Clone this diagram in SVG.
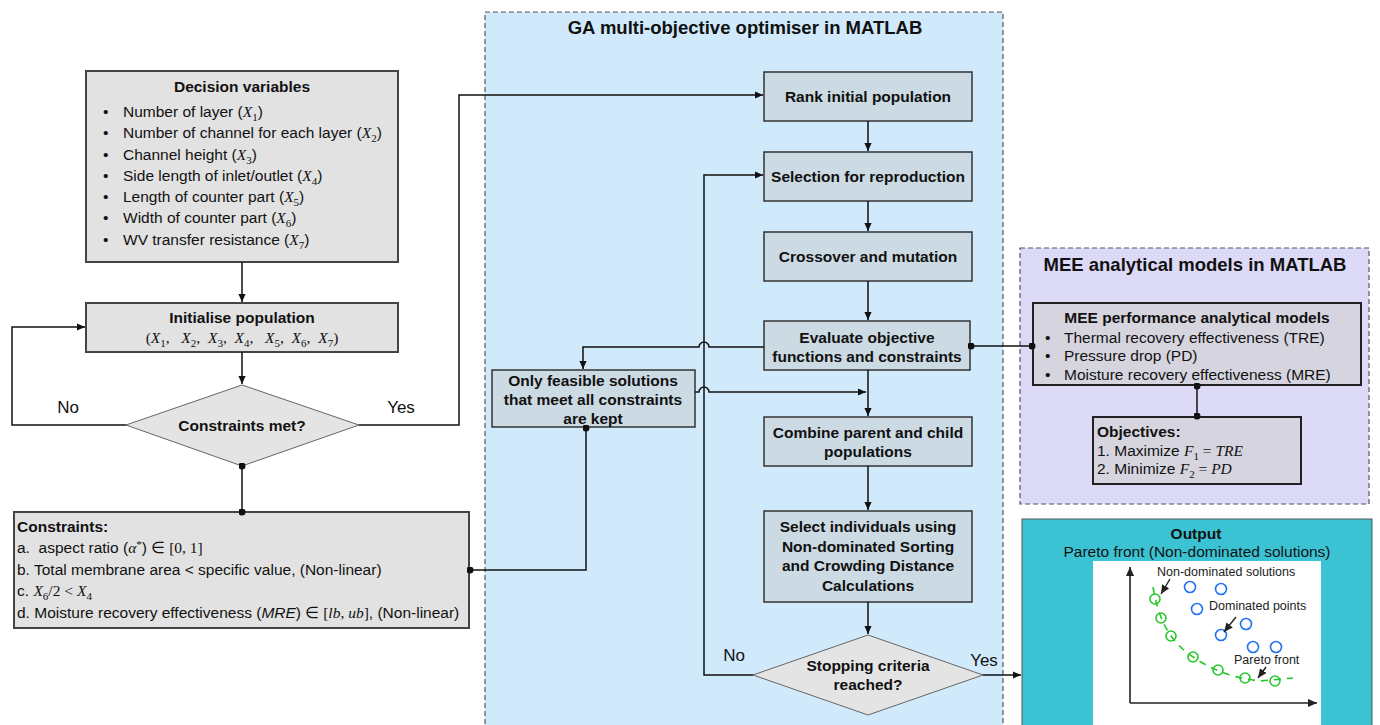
<svg xmlns="http://www.w3.org/2000/svg" width="1380" height="725" viewBox="0 0 1380 725">
<defs>
<marker id="arr" viewBox="0 0 10 10" refX="10" refY="5" markerUnits="userSpaceOnUse" markerWidth="9" markerHeight="8" orient="auto"><path d="M0,0.5 L10,5 L0,9.5 z" fill="#111"/></marker>
<marker id="dot" viewBox="0 0 10 10" refX="5" refY="5" markerUnits="userSpaceOnUse" markerWidth="7" markerHeight="7"><circle cx="5" cy="5" r="5" fill="#111"/></marker>
<marker id="sarr" viewBox="0 0 10 10" refX="10" refY="5" markerUnits="userSpaceOnUse" markerWidth="9" markerHeight="9" orient="auto"><path d="M0,0.5 L10,5 L0,9.5 z" fill="#222"/></marker>
</defs>
<style>
text{font-family:"Liberation Sans",Arial,sans-serif;fill:#111;}
.t{font-size:15.5px;}
.b{font-size:15.5px;font-weight:bold;}
.c{text-anchor:middle;}
.h{font-size:18.5px;font-weight:bold;text-anchor:middle;}
.m{font-family:"Liberation Serif","Times New Roman",serif;font-style:italic;}
.r{font-family:"Liberation Serif","Times New Roman",serif;}
.s{font-size:11px;}
.gbox{fill:#cbdae3;stroke:#333;stroke-width:1.5;}
.lbox{fill:#e2e2e2;stroke:#444;stroke-width:2;}
.mbox{fill:#d6d5df;stroke:#222;stroke-width:2;}
.dia{fill:#e4e4e4;stroke:#666;stroke-width:1;}
.ln{fill:none;stroke:#111;stroke-width:1.5;}
.lbl{font-size:17px;}
.pl{font-size:12.5px;fill:#222;}
.g{fill:none;stroke:#27c82a;stroke-width:1.6;}
.bl{fill:none;stroke:#1f72f5;stroke-width:1.6;}
</style>
<rect width="1380" height="725" fill="#ffffff"/>

<g id="ga-container">
<rect x="485" y="12" width="518" height="730" fill="#d0eafb" stroke="#555" stroke-width="1.2" stroke-dasharray="5,3"/>
<text class="h" x="745" y="34">GA multi-objective optimiser in MATLAB</text>
</g>

<g id="mee-container">
<rect x="1020" y="248" width="349" height="256" fill="#dddaf8" stroke="#555" stroke-width="1.2" stroke-dasharray="5,3"/>
<text class="h" x="1195" y="271">MEE analytical models in MATLAB</text>
</g>

<g id="decision-variables">
<rect class="lbox" x="86" y="71" width="312" height="191"/>
<text class="b c" x="242" y="92">Decision variables</text>
<g class="t">
<text x="103" y="117">•</text><text x="123" y="117">Number of layer (<tspan class="m">X</tspan><tspan class="r s" dy="4">1</tspan><tspan dy="-4">)</tspan></text>
<text x="103" y="138">•</text><text x="123" y="138">Number of channel for each layer (<tspan class="m">X</tspan><tspan class="r s" dy="4">2</tspan><tspan dy="-4">)</tspan></text>
<text x="103" y="160">•</text><text x="123" y="160">Channel height (<tspan class="m">X</tspan><tspan class="r s" dy="4">3</tspan><tspan dy="-4">)</tspan></text>
<text x="103" y="181">•</text><text x="123" y="181">Side length of inlet/outlet (<tspan class="m">X</tspan><tspan class="r s" dy="4">4</tspan><tspan dy="-4">)</tspan></text>
<text x="103" y="202">•</text><text x="123" y="202">Length of counter part (<tspan class="m">X</tspan><tspan class="r s" dy="4">5</tspan><tspan dy="-4">)</tspan></text>
<text x="103" y="223">•</text><text x="123" y="223">Width of counter part (<tspan class="m">X</tspan><tspan class="r s" dy="4">6</tspan><tspan dy="-4">)</tspan></text>
<text x="103" y="245">•</text><text x="123" y="245">WV transfer resistance (<tspan class="m">X</tspan><tspan class="r s" dy="4">7</tspan><tspan dy="-4">)</tspan></text>
</g>
</g>

<g id="initialise-population">
<rect class="lbox" x="86" y="303" width="312" height="49"/>
<text class="b c" x="242" y="323">Initialise population</text>
<text class="t c r" x="242" y="343">(<tspan class="m">X</tspan><tspan class="s" dy="4">1</tspan><tspan dy="-4">,&#160;&#160;&#160;</tspan><tspan class="m">X</tspan><tspan class="s" dy="4">2</tspan><tspan dy="-4">,&#160;&#160;</tspan><tspan class="m">X</tspan><tspan class="s" dy="4">3</tspan><tspan dy="-4">,&#160;&#160;</tspan><tspan class="m">X</tspan><tspan class="s" dy="4">4</tspan><tspan dy="-4">,&#160;&#160;&#160;</tspan><tspan class="m">X</tspan><tspan class="s" dy="4">5</tspan><tspan dy="-4">,&#160;&#160;</tspan><tspan class="m">X</tspan><tspan class="s" dy="4">6</tspan><tspan dy="-4">,&#160;&#160;</tspan><tspan class="m">X</tspan><tspan class="s" dy="4">7</tspan><tspan dy="-4">)</tspan></text>
</g>

<g id="constraints-met">
<polygon class="dia" points="242,385 359,425 242,466 126,425"/>
<text class="b c" x="242" y="431">Constraints met?</text>
</g>

<g id="constraints">
<rect class="lbox" x="14" y="512" width="455" height="116" stroke-width="1.5"/>
<text class="b" x="17" y="532">Constraints:</text>
<text class="t" x="17" y="553">a.&#160; aspect ratio (<tspan class="m">α</tspan><tspan class="r s" dy="-5">*</tspan><tspan dy="5">) </tspan><tspan class="r">∈ [0, 1]</tspan></text>
<text class="t" x="17" y="575">b. Total membrane area &lt; specific value, (Non-linear)</text>
<text class="t" x="17" y="596">c. <tspan class="m">X</tspan><tspan class="r s" dy="4">6</tspan><tspan class="r" dy="-4">/2 &lt; </tspan><tspan class="m">X</tspan><tspan class="r s" dy="4">4</tspan></text>
<text class="t" x="17" y="618">d. Moisture recovery effectiveness (<tspan font-style="italic">MRE</tspan>) <tspan class="r">∈ [</tspan><tspan class="m">lb</tspan><tspan class="r">, </tspan><tspan class="m">ub</tspan><tspan class="r">]</tspan>, (Non-linear)</text>
</g>

<g id="rank-initial-population">
<rect class="gbox" x="764" y="72" width="208" height="49"/>
<text class="b c" x="868" y="102">Rank initial population</text>
</g>
<g id="selection">
<rect class="gbox" x="764" y="152" width="208" height="49"/>
<text class="b c" x="868" y="182">Selection for reproduction</text>
</g>
<g id="crossover">
<rect class="gbox" x="764" y="232" width="208" height="49"/>
<text class="b c" x="868" y="262">Crossover and mutation</text>
</g>
<g id="evaluate">
<rect class="gbox" x="764" y="321" width="206" height="49" stroke-width="2"/>
<text class="b c" x="867" y="343">Evaluate objective</text>
<text class="b c" x="867" y="362">functions and constraints</text>
</g>
<g id="only-feasible">
<rect class="gbox" x="492" y="370" width="203" height="57"/>
<text class="b c" x="593" y="386">Only feasible solutions</text>
<text class="b c" x="593" y="405">that meet all constraints</text>
<text class="b c" x="593" y="424">are kept</text>
</g>
<g id="combine">
<rect class="gbox" x="764" y="417" width="208" height="49"/>
<text class="b c" x="868" y="438">Combine parent and child</text>
<text class="b c" x="868" y="457">populations</text>
</g>
<g id="select-individuals">
<rect class="gbox" x="764" y="511" width="208" height="91"/>
<text class="b c" x="868" y="532">Select individuals using</text>
<text class="b c" x="868" y="552">Non-dominated Sorting</text>
<text class="b c" x="868" y="571">and Crowding Distance</text>
<text class="b c" x="868" y="591">Calculations</text>
</g>
<g id="stopping-criteria">
<polygon class="dia" points="868,635 983,675 868,715 753,675"/>
<text class="b c" x="868" y="671">Stopping criteria</text>
<text class="b c" x="868" y="690">reached?</text>
</g>

<g id="mee-performance">
<rect class="mbox" x="1033" y="303" width="328" height="82"/>
<text class="b c" x="1197" y="323">MEE performance analytical models</text>
<text class="t" x="1045" y="343">•</text><text class="t" x="1064" y="343">Thermal recovery effectiveness (TRE)</text>
<text class="t" x="1045" y="361">•</text><text class="t" x="1064" y="361">Pressure drop (PD)</text>
<text class="t" x="1045" y="380">•</text><text class="t" x="1064" y="380">Moisture recovery effectiveness (MRE)</text>
</g>
<g id="objectives">
<rect class="mbox" x="1093" y="417" width="208" height="67"/>
<text class="b" x="1097" y="437">Objectives:</text>
<text class="t" x="1097" y="456">1. Maximize <tspan class="m">F</tspan><tspan class="r s" dy="4">1</tspan><tspan class="r" dy="-4"> = </tspan><tspan class="m">TRE</tspan></text>
<text class="t" x="1097" y="474">2. Minimize <tspan class="m">F</tspan><tspan class="r s" dy="4">2</tspan><tspan class="r" dy="-4"> = </tspan><tspan class="m">PD</tspan></text>
</g>

<g id="output">
<rect x="1022" y="519" width="350" height="220" fill="#3bc3d3" stroke="#555" stroke-width="1"/>
<text class="b c" x="1196" y="539">Output</text>
<text class="t c" x="1197" y="557">Pareto front (Non-dominated solutions)</text>
<rect x="1093" y="561" width="228" height="170" fill="#ffffff"/>
<line x1="1130" y1="703" x2="1130" y2="567" stroke="#222" stroke-width="1.6" marker-end="url(#sarr)"/>
<line x1="1130" y1="703" x2="1317" y2="703" stroke="#222" stroke-width="1.6" marker-end="url(#sarr)"/>
<path class="g" stroke-dasharray="7,6" d="M1153,587 C1158,615 1166,635 1185,651 C1205,667 1230,678 1260,681 L1293,678"/>
<circle class="g" cx="1155" cy="599" r="5"/>
<circle class="g" cx="1161" cy="618" r="5"/>
<circle class="g" cx="1171" cy="636" r="5"/>
<circle class="g" cx="1193" cy="657" r="5"/>
<circle class="g" cx="1218" cy="670" r="5"/>
<circle class="g" cx="1245" cy="678" r="5"/>
<circle class="g" cx="1275" cy="681" r="5"/>
<circle class="bl" cx="1190" cy="587" r="5.5"/>
<circle class="bl" cx="1221" cy="589" r="5.5"/>
<circle class="bl" cx="1197" cy="609" r="5.5"/>
<circle class="bl" cx="1246" cy="624" r="5.5"/>
<circle class="bl" cx="1221" cy="635" r="5.5"/>
<circle class="bl" cx="1253" cy="647" r="5.5"/>
<circle class="bl" cx="1276" cy="647" r="5.5"/>
<text class="pl" x="1157" y="576">Non-dominated solutions</text>
<text class="pl" x="1209" y="610">Dominated points</text>
<text class="pl" x="1234" y="664">Pareto front</text>
<line x1="1170" y1="579" x2="1161" y2="594" stroke="#222" stroke-width="1.4" marker-end="url(#sarr)"/>
<line x1="1236" y1="617" x2="1224" y2="632" stroke="#222" stroke-width="1.4" marker-end="url(#sarr)"/>
<line x1="1266" y1="667" x2="1258" y2="678" stroke="#222" stroke-width="1.4" marker-end="url(#sarr)"/>
</g>

<g id="connectors">
<line class="ln" x1="242" y1="262" x2="242" y2="302" marker-end="url(#arr)"/>
<line class="ln" x1="242" y1="352" x2="242" y2="384" marker-end="url(#arr)"/>
<path class="ln" d="M126,425 H12 V327 H85" marker-end="url(#arr)"/>
<path class="ln" d="M359,425 H459 V95 H763" marker-end="url(#arr)"/>
<line class="ln" x1="242" y1="466" x2="242" y2="512" marker-start="url(#dot)" marker-end="url(#dot)"/>
<line class="ln" x1="868" y1="121" x2="868" y2="151" marker-end="url(#arr)"/>
<line class="ln" x1="868" y1="201" x2="868" y2="231" marker-end="url(#arr)"/>
<line class="ln" x1="868" y1="281" x2="868" y2="320" marker-end="url(#arr)"/>
<line class="ln" x1="868" y1="370" x2="868" y2="416" marker-end="url(#arr)"/>
<line class="ln" x1="868" y1="466" x2="868" y2="510" marker-end="url(#arr)"/>
<line class="ln" x1="868" y1="602" x2="868" y2="634" marker-end="url(#arr)"/>
<path class="ln" d="M764,347 H709 A5,5 0 0 0 699,347 H583 V369" marker-end="url(#arr)"/>
<path class="ln" d="M695,392 H699 A5,5 0 0 1 709,392 H866" marker-end="url(#arr)"/>
<path class="ln" d="M753,675 H704 V175 H763" marker-end="url(#arr)"/>
<path class="ln" d="M983,675 H1021" marker-end="url(#arr)"/>
<path class="ln" d="M586,428 V570 H470" marker-start="url(#dot)" marker-end="url(#dot)"/>
<line class="ln" x1="971" y1="346" x2="1032" y2="346" marker-start="url(#dot)" marker-end="url(#dot)"/>
<line class="ln" x1="1197" y1="386" x2="1197" y2="416" stroke-width="2" marker-start="url(#dot)" marker-end="url(#dot)"/>
<text class="lbl" x="68" y="413" text-anchor="middle">No</text>
<text class="lbl" x="401" y="413" text-anchor="middle">Yes</text>
<text class="lbl" x="734" y="661" text-anchor="middle">No</text>
<text class="lbl" x="984" y="666" text-anchor="middle">Yes</text>
</g>
</svg>
